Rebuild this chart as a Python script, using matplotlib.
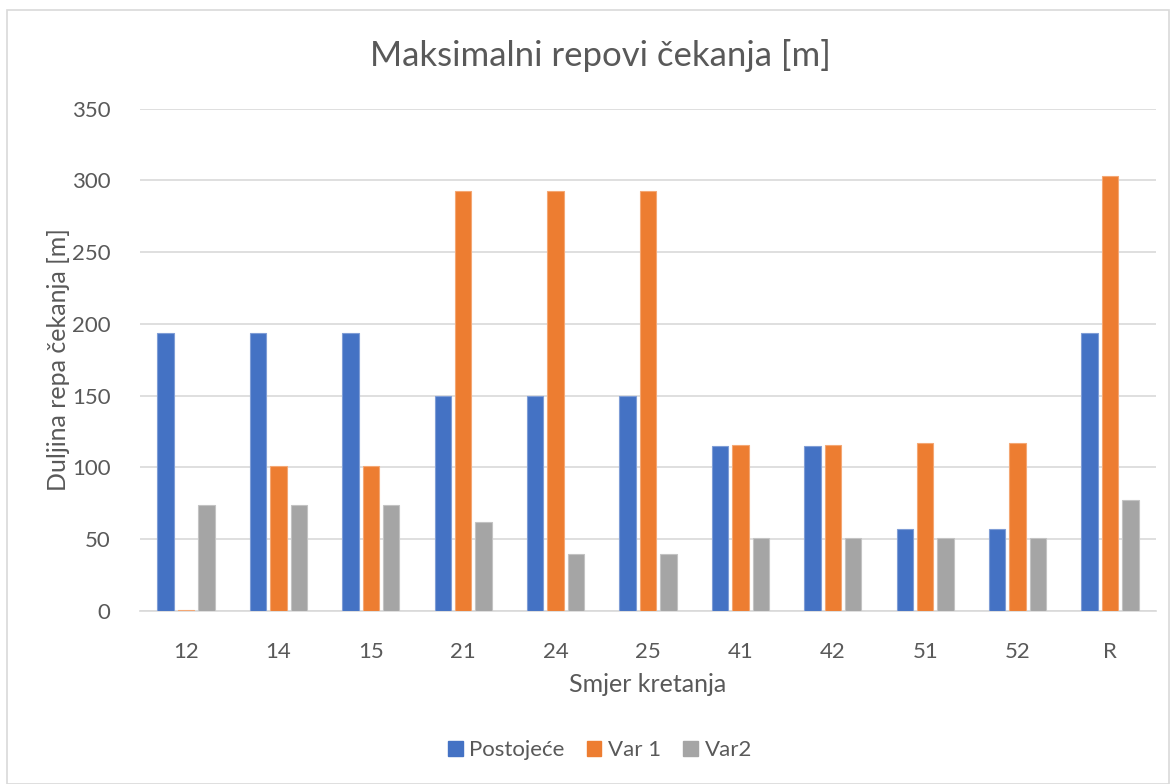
import matplotlib.pyplot as plt
import numpy as np
from matplotlib.patches import Rectangle

plt.rcParams['font.family'] = ['Lato', 'DejaVu Sans']

categories = ['12', '14', '15', '21', '24', '25', '41', '42', '51', '52', 'R']
postojece = [194, 194, 194, 150, 150, 150, 115, 115, 57, 57, 194]
var1 = [1, 101, 101, 293, 293, 293, 116, 116, 117, 117, 303]
var2 = [74, 74, 74, 62, 40, 40, 51, 51, 51, 51, 77]
series_names = ['Postoje\u0107e', 'Var 1', 'Var2']
colors = ['#4472C4', '#ED7D31', '#A5A5A5']
edges = ['#7F9DD6', '#F4A774', '#C3C3C3']
yticks = [0, 50, 100, 150, 200, 250, 300, 350]

text_color = '#595959'
W, H = 1171, 784
fig = plt.figure(figsize=(W / 100, H / 100), dpi=100)

# chart frame
fig.patches.append(Rectangle((7 / W, 0.0), (1169 - 7) / W, 1 - 10 / H,
                             transform=fig.transFigure, fill=False,
                             edgecolor='#D9D9D9', linewidth=1.2))

ax = fig.add_axes([139.8 / W, 1 - 611 / H, (1156.2 - 139.8) / W, (611 - 108.7) / H])

x = np.arange(len(categories))
width = 0.176
step = 0.221
for i, (vals, c, e, name) in enumerate(zip([postojece, var1, var2], colors, edges, series_names)):
    ax.bar(x + (i - 1) * step, vals, width=width, color=c, edgecolor=e,
           linewidth=0.8, label=name, zorder=3)

ax.set_xlim(-0.5, len(categories) - 0.5)
ax.set_ylim(0, 350)
ax.set_yticks(yticks)
ax.set_xticks(x)
ax.set_xticklabels(categories)
ax.yaxis.grid(True, color='#D9D9D9', linewidth=1.2, zorder=0)
ax.set_axisbelow(True)
for s in ['top', 'right', 'left']:
    ax.spines[s].set_visible(False)
ax.spines['bottom'].set_color('#D9D9D9')
ax.spines['bottom'].set_linewidth(1.2)
ax.tick_params(axis='both', length=0, colors=text_color, labelsize=16)
ax.tick_params(axis='y', pad=21)
ax.tick_params(axis='x', pad=22)

ax.set_ylabel('Duljina repa \u010dekanja [m]', fontsize=18, color=text_color)
ax.yaxis.set_label_coords((59 - 139.8) / (1156.2 - 139.8), 0.5)
ax.set_xlabel('Smjer kretanja', fontsize=18, color=text_color)
ax.xaxis.set_label_coords((648 - 139.8) / (1156.2 - 139.8), -(684 - 611) / (611 - 108.7))
ax.xaxis.label.set_va('center')
ax.yaxis.label.set_va('center')

fig.text(600 / W, 1 - 55 / H, 'Maksimalni repovi \u010dekanja [m]', ha='center', va='center',
         fontsize=25, color=text_color)

handles = [Rectangle((0, 0), 1, 1, facecolor=c, edgecolor=c) for c in colors]
fig.legend(handles, series_names, loc='center', bbox_to_anchor=(600 / W, 1 - 750 / H),
           ncol=3, frameon=False, fontsize=16, labelcolor=text_color,
           handlelength=0.65, handleheight=0.65, handletextpad=0.3, columnspacing=1.0)

fig.savefig('out.png', dpi=100)
